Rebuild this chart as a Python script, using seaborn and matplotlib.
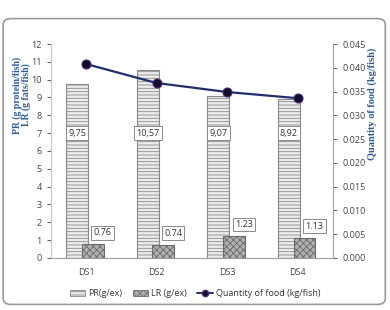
import numpy as np
import pandas as pd
import matplotlib
matplotlib.use("Agg")
import matplotlib.pyplot as plt
import seaborn as sns
from matplotlib.patches import Patch, FancyBboxPatch
from matplotlib.lines import Line2D
from matplotlib.ticker import FormatStrFormatter, MultipleLocator

# data
samples = ["DS1", "DS2", "DS3", "DS4"]
pr_values = [9.75, 10.57, 9.07, 8.92]
lr_values = [0.76, 0.74, 1.23, 1.13]
pr_labels = ["9,75", "10,57", "9,07", "8,92"]
lr_labels = ["0.76", "0.74", "1.23", "1.13"]
food_qty = [0.0408, 0.0368, 0.0349, 0.0336]
series_names = ["PR(g/ex)", "LR (g/ex)", "Quantity of food (kg/fish)"]

sns.set_theme(style="white")
plt.rcParams["font.family"] = ["Open Sans", "DejaVu Sans"]
plt.rcParams["hatch.linewidth"] = 0.6

df = pd.DataFrame({
    "sample": samples * 2,
    "value": pr_values + lr_values,
    "series": [series_names[0]] * 4 + [series_names[1]] * 4,
})

fig = plt.figure(figsize=(3.9, 3.1), dpi=100)
fig.patches.append(FancyBboxPatch((0.008, 0.018), 0.98, 0.922, boxstyle="round,pad=0,rounding_size=0.02",
                                  transform=fig.transFigure, facecolor="white", edgecolor="#9a9a9a",
                                  linewidth=1.2, zorder=-1))
ax = fig.add_axes([0.13, 0.168, 0.724, 0.69])
ax.set_facecolor("none")

sns.barplot(data=df, x="sample", y="value", hue="series",
            palette=["#ececec", "#b0b0b0"], width=0.62, ax=ax, legend=False,
            edgecolor="#8a8a8a", linewidth=0.8)

bars = ax.patches
for i, b in enumerate(bars):
    if i < 4:
        b.set_hatch("-----")
        b.set_x(b.get_x() + 0.03)
    else:
        b.set_hatch("xxxxx")
        b.set_edgecolor("#6a6a6a")
        b.set_x(b.get_x() - 0.06)
        b.set_zorder(3)

box = dict(boxstyle="square,pad=0.25", facecolor="white", edgecolor="#8a8a8a", linewidth=0.7)
for i in range(4):
    pb, lb = bars[i], bars[i + 4]
    ax.text(pb.get_x() + pb.get_width() / 2, 7.0, pr_labels[i], ha="center", va="center",
            fontsize=6.5, color="#333333", bbox=box, zorder=5)
    ax.text(lb.get_x() + lb.get_width() / 2 + 0.14, lr_values[i] + 0.65, lr_labels[i],
            ha="center", va="center", fontsize=6.5, color="#333333", bbox=box, zorder=5)

ax.set_ylim(0, 12)
ax.set_xlim(-0.5, 3.5)
ax.yaxis.set_major_locator(MultipleLocator(1))
ax.set_xlabel("")
ax.set_ylabel("")
ax.tick_params(axis="both", labelsize=6.5, colors="#444444", length=3, width=0.6, direction="out")
ax.tick_params(axis="x", length=0, pad=7)
ax.tick_params(axis="y", left=True)
for s in ["top", "right"]:
    ax.spines[s].set_visible(False)
ax.spines["left"].set_color("#c8c8c8")
ax.spines["bottom"].set_color("#a0a0a0")
ax.spines["left"].set_linewidth(0.8)
ax.spines["bottom"].set_linewidth(0.8)

ax2 = ax.twinx()
sns.lineplot(x=np.arange(len(samples)), y=food_qty, ax=ax2, color="#1f2f6b", linewidth=1.6,
             marker="o", markersize=6.5, markerfacecolor="#140a2a", markeredgecolor="#4a2a7a",
             markeredgewidth=0.8, zorder=6)
ax2.set_ylim(0, 0.045)
ax2.yaxis.set_major_locator(MultipleLocator(0.005))
ax2.yaxis.set_major_formatter(FormatStrFormatter("%.3f"))
ax2.tick_params(axis="y", labelsize=6.5, colors="#444444", length=3, width=0.6, right=True, direction="out")
for s in ["top", "left", "bottom"]:
    ax2.spines[s].set_visible(False)
ax2.spines["right"].set_color("#a0a0a0")
ax2.spines["right"].set_linewidth(0.8)

lab_font = dict(family=["Liberation Serif", "DejaVu Serif"], fontweight="bold", color="#2e5c9a")
fig.text(0.056, 1 - 95 / 310, "PR (g protein/fish)\nLR (g fats/fish)", rotation=90,
         ha="center", va="center", linespacing=0.95, fontsize=7, **lab_font)
fig.text(0.955, 1 - 104 / 310, "Quantity of food (kg/fish)", rotation=90,
         ha="center", va="center", fontsize=7.5, **lab_font)

handles = [
    Patch(facecolor="#ececec", edgecolor="#8a8a8a", hatch="-----", linewidth=0.6),
    Patch(facecolor="#b0b0b0", edgecolor="#6a6a6a", hatch="xxxxx", linewidth=0.6),
    Line2D([0], [0], color="#1f2f6b", linewidth=1.4, marker="o", markersize=4.5,
           markerfacecolor="#140a2a", markeredgecolor="#4a2a7a"),
]
fig.legend(handles, series_names, loc="center", bbox_to_anchor=(0.5, 1 - 294 / 310), ncol=3,
           frameon=False, fontsize=6.5, handlelength=1.7, handleheight=0.6, handletextpad=0.3,
           columnspacing=1.2, labelcolor="#333333")

fig.savefig("out.png", dpi=100)
